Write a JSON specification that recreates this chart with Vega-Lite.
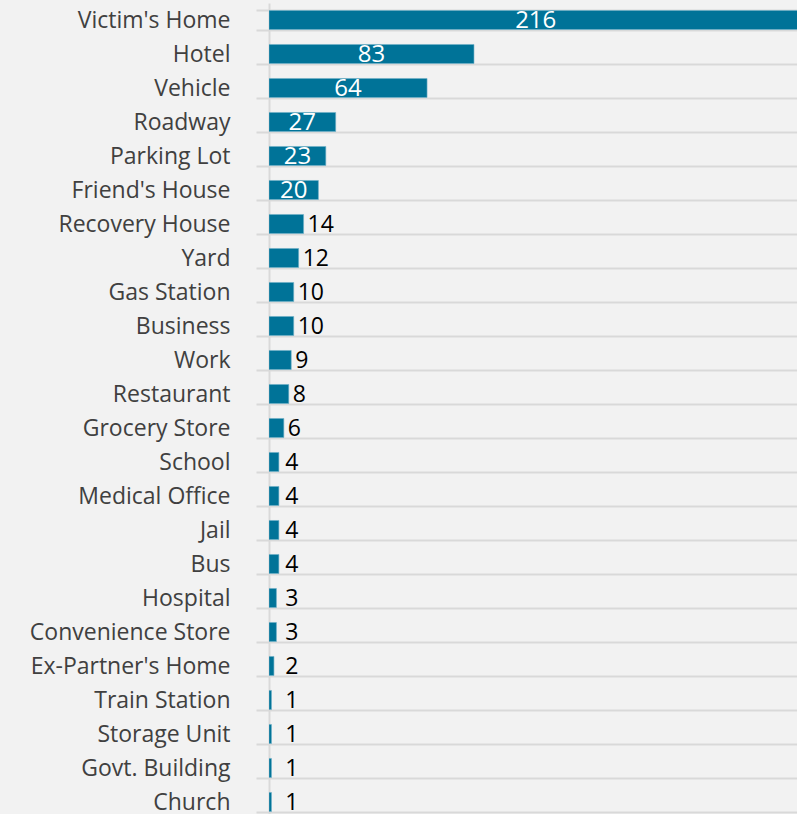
{
  "$schema": "https://vega.github.io/schema/vega-lite/v6.json",
  "width": 528,
  "height": 816,
  "autosize": {"type": "none"},
  "padding": {"left": 269, "top": 3, "right": 0, "bottom": 0},
  "background": "#f2f2f2",
  "config": {"view": {"stroke": null}},
  "data": {"values": [
    {"place": "Victim's Home", "count": 216},
    {"place": "Hotel", "count": 83},
    {"place": "Vehicle", "count": 64},
    {"place": "Roadway", "count": 27},
    {"place": "Parking Lot", "count": 23},
    {"place": "Friend's House", "count": 20},
    {"place": "Recovery House", "count": 14},
    {"place": "Yard", "count": 12},
    {"place": "Gas Station", "count": 10},
    {"place": "Business", "count": 10},
    {"place": "Work", "count": 9},
    {"place": "Restaurant", "count": 8},
    {"place": "Grocery Store", "count": 6},
    {"place": "School", "count": 4},
    {"place": "Medical Office", "count": 4},
    {"place": "Jail", "count": 4},
    {"place": "Bus", "count": 4},
    {"place": "Hospital", "count": 3},
    {"place": "Convenience Store", "count": 3},
    {"place": "Ex-Partner's Home", "count": 2},
    {"place": "Train Station", "count": 1},
    {"place": "Storage Unit", "count": 1},
    {"place": "Govt. Building", "count": 1},
    {"place": "Church", "count": 1}
  ]},
  "encoding": {
    "y": {
      "field": "place", "type": "nominal", "sort": null, "title": null,
      "scale": {"paddingInner": 0.44, "paddingOuter": 0.22},
      "axis": {
        "tickBand": "extent",
        "domain": true, "domainColor": "#d9d9d9", "domainWidth": 2,
        "ticks": true, "tickColor": "#d9d9d9", "tickSize": 13, "tickWidth": 2,
        "grid": true, "gridColor": "#d9d9d9", "gridWidth": 2,
        "labelPadding": 26, "labelFont": "Open Sans", "labelFontSize": 23,
        "labelColor": "#404040", "labelLimit": 300
      }
    }
  },
  "layer": [
    {
      "mark": {"type": "bar", "color": "#007398", "clip": true, "stroke": "#6fb0c8", "strokeWidth": 0.6},
      "encoding": {
        "x": {"field": "count", "type": "quantitative", "scale": {"domain": [0, 213.8], "nice": false}, "axis": null}
      }
    },
    {
      "transform": [{"filter": "datum.count >= 20"}, {"calculate": "datum.count / 2", "as": "mid"}],
      "mark": {"type": "text", "color": "white", "font": "Open Sans", "fontSize": 24, "align": "center", "baseline": "middle", "dy": 1},
      "encoding": {
        "x": {"field": "mid", "type": "quantitative", "scale": {"domain": [0, 213.8], "nice": false}},
        "text": {"field": "count", "type": "quantitative"}
      }
    },
    {
      "transform": [{"filter": "datum.count < 20"}, {"calculate": "max(datum.count, 5)", "as": "lpos"}],
      "mark": {"type": "text", "color": "black", "font": "Open Sans", "fontSize": 23, "align": "left", "baseline": "middle", "dx": 4, "dy": 1},
      "encoding": {
        "x": {"field": "lpos", "type": "quantitative", "scale": {"domain": [0, 213.8], "nice": false}},
        "text": {"field": "count", "type": "quantitative"}
      }
    }
  ]
}
